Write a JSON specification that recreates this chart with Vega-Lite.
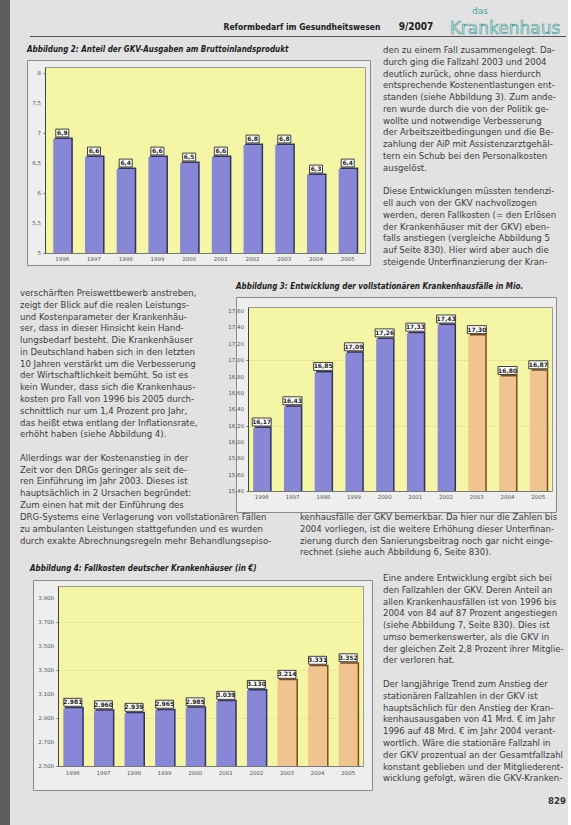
{
"$schema": "https://vega.github.io/schema/vega-lite/v6.json",
"background": "#e2e2e2",
"padding": 0,
"datasets": {"e": [{}]},
"config": {
  "view": {"stroke": null},
  "locale": {"number": {"decimal": ",", "thousands": ".", "grouping": [3], "currency": ["", " €"]}},
  "axis": {"labelFont": "DejaVu Sans", "labelColor": "#555555", "title": null, "labelOverlap": false}
},
"spacing": 0, "bounds": "flush", "align": "none",
"vconcat": [
  {"spacing": 0, "bounds": "flush", "align": "none", "hconcat": [
    {"width": 10, "height": 825, "view": {"fill": "#5e5e5e"}, "data": {"name": "e"}, "mark": {"type": "text", "text": ""}}
  ]},
  {"width": 0.001, "height": 18, "data": {"name": "e"}, "mark": {"type": "text", "text": ""}},
  {"spacing": 0, "bounds": "flush", "align": "none", "hconcat": [
    {"width": 232, "height": 18, "data": {"name": "e"}, "mark": {"type": "text", "text": ""}},
    {"width": 140, "height": 18, "data": {"values": [{"t": "Reformbedarf im Gesundheitswesen"}]}, "mark": {"type": "text", "font": "DejaVu Sans Condensed, sans-serif", "fontWeight": "bold", "fontSize": 8.5, "color": "#202020", "baseline": "middle"}, "encoding": {"text": {"field": "t"}}},
    {"width": 28, "height": 18, "data": {"name": "e"}, "mark": {"type": "text", "text": ""}},
    {"width": 32, "height": 18, "data": {"values": [{"t": "9/2007"}]}, "mark": {"type": "text", "font": "DejaVu Sans Condensed, sans-serif", "fontWeight": "bold", "fontSize": 10, "color": "#202020", "baseline": "middle"}, "encoding": {"text": {"field": "t"}}},
    {"width": 11, "height": 18, "data": {"name": "e"}, "mark": {"type": "text", "text": ""}},
    {"width": 124, "height": 18, "title": {"text": "das", "anchor": "start", "dx": 29, "offset": 2, "fontSize": 9, "font": "DejaVu Sans", "fontWeight": "normal", "color": "#4a9f9b", "frame": "group"}, "data": {"values": [{"t": "Krankenhaus"}]}, "mark": {"type": "text", "font": "DejaVu Sans", "fontSize": 17, "fill": "#d3ebe8", "stroke": "#3f9893", "strokeWidth": 0.6, "baseline": "middle", "dy": 2}, "encoding": {"text": {"field": "t"}}}
  ]},
  {"width": 0.001, "height": 18, "data": {"name": "e"}, "mark": {"type": "text", "text": ""}},
  {"spacing": 0, "bounds": "flush", "align": "none", "hconcat": [
    {"width": 30, "height": 1, "data": {"name": "e"}, "mark": {"type": "text", "text": ""}},
    {"width": 536, "height": 1, "view": {"fill": "#555555"}, "data": {"name": "e"}, "mark": {"type": "text", "text": ""}}
  ]},
  {"width": 0.001, "height": 14, "data": {"name": "e"}, "mark": {"type": "text", "text": ""}},
  {"spacing": 0, "bounds": "flush", "align": "none", "hconcat": [
    {"width": 383, "height": 1, "data": {"name": "e"}, "mark": {"type": "text", "text": ""}},
    {"width": 185, "height": 212,
     "data": {"values": [
       {"z": 0, "t": "den zu einem Fall zusammengelegt. Da-"},
       {"z": 1, "t": "durch ging die Fallzahl 2003 und 2004"},
       {"z": 2, "t": "deutlich zurück, ohne dass hierdurch"},
       {"z": 3, "t": "entsprechende Kostenentlastungen ent-"},
       {"z": 4, "t": "standen (siehe Abbildung 3). Zum ande-"},
       {"z": 5, "t": "ren wurde durch die von der Politik ge-"},
       {"z": 6, "t": "wollte und notwendige Verbesserung"},
       {"z": 7, "t": "der Arbeitszeitbedingungen und die Be-"},
       {"z": 8, "t": "zahlung der AiP mit Assistenzarztgehäl-"},
       {"z": 9, "t": "tern ein Schub bei den Personalkosten"},
       {"z": 10, "t": "ausgelöst."},
       {"z": 12, "t": "Diese Entwicklungen müssten tendenzi-"},
       {"z": 13, "t": "ell auch von der GKV nachvollzogen"},
       {"z": 14, "t": "werden, deren Fallkosten (= den Erlösen"},
       {"z": 15, "t": "der Krankenhäuser mit der GKV) eben-"},
       {"z": 16, "t": "falls anstiegen (vergleiche Abbildung 5"},
       {"z": 17, "t": "auf Seite 830). Hier wird aber auch die"},
       {"z": 18, "t": "steigende Unterfinanzierung der Kran-"}
     ]},
     "mark": {"type": "text", "align": "left", "baseline": "middle", "font": "DejaVu Sans Condensed, sans-serif", "fontSize": 9.5, "color": "#3c3c3c"},
     "encoding": {"x": {"value": 0}, "y": {"field": "z", "type": "quantitative", "scale": {"domain": [0, 18], "reverse": true, "nice": false, "zero": false}, "axis": null}, "text": {"field": "t"}}
    }
  ]},
  {"width": 0.001, "height": 10, "data": {"name": "e"}, "mark": {"type": "text", "text": ""}},
  {"spacing": 0, "bounds": "flush", "align": "none", "hconcat": [
    {"width": 27, "height": 1, "data": {"name": "e"}, "mark": {"type": "text", "text": ""}},
    {"width": 343, "height": 205, "view": {"fill": "#eeeeee", "stroke": "#8a8a8a", "strokeWidth": 1}, "data": {"name": "e"}, "mark": {"type": "text", "text": ""}}
  ]},
  {"width": 0.001, "height": 7, "data": {"name": "e"}, "mark": {"type": "text", "text": ""}},
  {"spacing": 0, "bounds": "flush", "align": "none", "hconcat": [
    {"width": 45, "height": 1, "data": {"name": "e"}, "mark": {"type": "text", "text": ""}},
    {"width": 320, "height": 186,
     "view": {"fill": "#f5f5a6", "stroke": "#9a9a9a"},
     "title": {"text": "Abbildung 2: Anteil der GKV-Ausgaben am Bruttoinlandsprodukt", "anchor": "start", "frame": "group", "dx": -18, "offset": 13, "font": "DejaVu Sans Condensed, sans-serif", "fontSize": 8, "fontStyle": "italic", "fontWeight": "bold", "color": "#1e1e1e"},
     "data": {"values": [
       {"jahr": "1996", "v": 6.9}, {"jahr": "1997", "v": 6.6}, {"jahr": "1998", "v": 6.4}, {"jahr": "1999", "v": 6.6}, {"jahr": "2000", "v": 6.5},
       {"jahr": "2001", "v": 6.6}, {"jahr": "2002", "v": 6.8}, {"jahr": "2003", "v": 6.8}, {"jahr": "2004", "v": 6.3}, {"jahr": "2005", "v": 6.4}
     ]},
     "encoding": {
       "x": {"field": "jahr", "type": "ordinal", "scale": {"paddingInner": 0.43, "paddingOuter": 0.26}, "axis": {"labelAngle": 0, "labelFontSize": 5.5, "ticks": false, "domainColor": "#777777", "labelPadding": 3}}
     },
     "layer": [
       {"mark": {"type": "bar", "color": "#33335e", "xOffset": 1.5, "yOffset": -1.5},
        "encoding": {"y": {"field": "v", "type": "quantitative", "scale": {"domain": [5, 8.1], "nice": false, "zero": false}, "axis": {"values": [5, 5.5, 6, 6.5, 7, 7.5, 8], "labels": false, "tickSize": 2, "tickColor": "#777777", "domainColor": "#444444", "grid": false}}, "y2": {"datum": 5}}},
       {"mark": {"type": "bar", "color": "#8886d6"}, "encoding": {"y": {"field": "v", "type": "quantitative"}, "y2": {"datum": 5}}},
       {"mark": {"type": "point", "shape": "M-1,-0.6H1V0.6H-1Z", "size": 169, "filled": true, "fill": "#ffffff", "stroke": "#111111", "strokeWidth": 0.8, "opacity": 1, "yOffset": -6}, "encoding": {"y": {"field": "v", "type": "quantitative"}}},
       {"mark": {"type": "text", "fontSize": 6, "fontWeight": "bold", "color": "#222222", "yOffset": -6, "baseline": "middle", "font": "DejaVu Sans"}, "encoding": {"y": {"field": "v", "type": "quantitative"}, "text": {"field": "v", "type": "quantitative", "format": ".1f"}}},
       {"data": {"values": [{"t": 5}, {"t": 5.5}, {"t": 6}, {"t": 6.5}, {"t": 7}, {"t": 7.5}, {"t": 8}]},
        "mark": {"type": "text", "align": "right", "baseline": "middle", "fontSize": 5.5, "color": "#555555", "font": "DejaVu Sans", "dx": -4},
        "encoding": {"x": {"value": 0}, "y": {"field": "t", "type": "quantitative"}, "text": {"field": "t", "type": "quantitative", "format": ".1~f"}}}
     ]
    }
  ]},
  {"width": 0.001, "height": 226, "data": {"name": "e"}, "mark": {"type": "text", "text": ""}},
  {"spacing": 0, "bounds": "flush", "align": "none", "hconcat": [
    {"width": 20, "height": 1, "data": {"name": "e"}, "mark": {"type": "text", "text": ""}},
    {"width": 205, "height": 212,
     "data": {"values": [
       {"z": 0, "t": "verschärften Preiswettbewerb anstreben,"},
       {"z": 1, "t": "zeigt der Blick auf die realen Leistungs-"},
       {"z": 2, "t": "und Kostenparameter der Krankenhäu-"},
       {"z": 3, "t": "ser, dass in dieser Hinsicht kein Hand-"},
       {"z": 4, "t": "lungsbedarf besteht. Die Krankenhäuser"},
       {"z": 5, "t": "in Deutschland haben sich in den letzten"},
       {"z": 6, "t": "10 Jahren verstärkt um die Verbesserung"},
       {"z": 7, "t": "der Wirtschaftlichkeit bemüht. So ist es"},
       {"z": 8, "t": "kein Wunder, dass sich die Krankenhaus-"},
       {"z": 9, "t": "kosten pro Fall von 1996 bis 2005 durch-"},
       {"z": 10, "t": "schnittlich nur um 1,4 Prozent pro Jahr,"},
       {"z": 11, "t": "das heißt etwa entlang der Inflationsrate,"},
       {"z": 12, "t": "erhöht haben (siehe Abbildung 4)."},
       {"z": 14, "t": "Allerdings war der Kostenanstieg in der"},
       {"z": 15, "t": "Zeit vor den DRGs geringer als seit de-"},
       {"z": 16, "t": "ren Einführung im Jahr 2003. Dieses ist"},
       {"z": 17, "t": "hauptsächlich in 2 Ursachen begründet:"},
       {"z": 18, "t": "Zum einen hat mit der Einführung des"}
     ]},
     "mark": {"type": "text", "align": "left", "baseline": "middle", "font": "DejaVu Sans Condensed, sans-serif", "fontSize": 9.5, "color": "#3c3c3c"},
     "encoding": {"x": {"value": 0}, "y": {"field": "z", "type": "quantitative", "scale": {"domain": [0, 18], "reverse": true, "nice": false, "zero": false}, "axis": null}, "text": {"field": "t"}}
    }
  ]},
  {"width": 0.001, "height": 4, "data": {"name": "e"}, "mark": {"type": "text", "text": ""}},
  {"spacing": 0, "bounds": "flush", "align": "none", "hconcat": [
    {"width": 236, "height": 1, "data": {"name": "e"}, "mark": {"type": "text", "text": ""}},
    {"width": 320, "height": 215, "view": {"fill": "#eeeeee", "stroke": "#8a8a8a", "strokeWidth": 1}, "data": {"name": "e"}, "mark": {"type": "text", "text": ""}}
  ]},
  {"width": 0.001, "height": 10, "data": {"name": "e"}, "mark": {"type": "text", "text": ""}},
  {"spacing": 0, "bounds": "flush", "align": "none", "hconcat": [
    {"width": 248, "height": 1, "data": {"name": "e"}, "mark": {"type": "text", "text": ""}},
    {"width": 304, "height": 184,
     "view": {"fill": "#f5f5a6", "stroke": "#9a9a9a"},
     "title": {"text": "Abbildung 3: Entwicklung der vollstationären Krankenhausfälle in Mio.", "anchor": "start", "frame": "group", "dx": -12, "offset": 16, "font": "DejaVu Sans Condensed, sans-serif", "fontSize": 8, "fontStyle": "italic", "fontWeight": "bold", "color": "#1e1e1e"},
     "data": {"values": [
       {"jahr": "1996", "v": 16.17, "p": "a"}, {"jahr": "1997", "v": 16.43, "p": "a"}, {"jahr": "1998", "v": 16.85, "p": "a"}, {"jahr": "1999", "v": 17.09, "p": "a"}, {"jahr": "2000", "v": 17.26, "p": "a"},
       {"jahr": "2001", "v": 17.33, "p": "a"}, {"jahr": "2002", "v": 17.43, "p": "a"}, {"jahr": "2003", "v": 17.30, "p": "b"}, {"jahr": "2004", "v": 16.80, "p": "b"}, {"jahr": "2005", "v": 16.87, "p": "b"}
     ]},
     "encoding": {
       "x": {"field": "jahr", "type": "ordinal", "scale": {"paddingInner": 0.45, "paddingOuter": 0.17}, "axis": {"labelAngle": 0, "labelFontSize": 5.5, "ticks": false, "domainColor": "#777777", "labelPadding": 3}}
     },
     "resolve": {"scale": {"color": "independent"}},
     "layer": [
       {"mark": {"type": "bar", "xOffset": 1.5, "yOffset": -1.5},
        "encoding": {"y": {"field": "v", "type": "quantitative", "scale": {"domain": [15.4, 17.65], "nice": false, "zero": false}, "axis": {"values": [15.4, 15.6, 15.8, 16.0, 16.2, 16.4, 16.6, 16.8, 17.0, 17.2, 17.4, 17.6], "labels": false, "tickSize": 2, "tickColor": "#777777", "domainColor": "#444444", "grid": true, "gridColor": "#dede8c", "gridWidth": 0.6}}, "y2": {"datum": 15.4},
          "color": {"field": "p", "type": "nominal", "scale": {"domain": ["a", "b"], "range": ["#33335e", "#7d4a22"]}, "legend": null}}},
       {"mark": {"type": "bar"}, "encoding": {"y": {"field": "v", "type": "quantitative"}, "y2": {"datum": 15.4}, "color": {"field": "p", "type": "nominal", "scale": {"domain": ["a", "b"], "range": ["#8886d6", "#efc48e"]}, "legend": null}}},
       {"mark": {"type": "point", "shape": "M-1,-0.42H1V0.42H-1Z", "size": 361, "filled": true, "fill": "#ffffff", "stroke": "#111111", "strokeWidth": 0.8, "opacity": 1, "yOffset": -6}, "encoding": {"y": {"field": "v", "type": "quantitative"}}},
       {"mark": {"type": "text", "fontSize": 6, "fontWeight": "bold", "color": "#222222", "yOffset": -6, "baseline": "middle", "font": "DejaVu Sans"}, "encoding": {"y": {"field": "v", "type": "quantitative"}, "text": {"field": "v", "type": "quantitative", "format": ".2f"}}},
       {"data": {"values": [{"t": 15.4}, {"t": 15.6}, {"t": 15.8}, {"t": 16.0}, {"t": 16.2}, {"t": 16.4}, {"t": 16.6}, {"t": 16.8}, {"t": 17.0}, {"t": 17.2}, {"t": 17.4}, {"t": 17.6}]},
        "mark": {"type": "text", "align": "right", "baseline": "middle", "fontSize": 5.5, "color": "#555555", "font": "DejaVu Sans", "dx": -4},
        "encoding": {"x": {"value": 0}, "y": {"field": "t", "type": "quantitative"}, "text": {"field": "t", "type": "quantitative", "format": ".2f"}}}
     ]
    }
  ]},
  {"width": 0.001, "height": 210, "data": {"name": "e"}, "mark": {"type": "text", "text": ""}},
  {"spacing": 0, "bounds": "flush", "align": "none", "hconcat": [
    {"width": 20, "height": 1, "data": {"name": "e"}, "mark": {"type": "text", "text": ""}},
    {"width": 270, "height": 36,
     "data": {"values": [
       {"z": 0, "t": "DRG-Systems eine Verlagerung von vollstationären Fällen"},
       {"z": 1, "t": "zu ambulanten Leistungen stattgefunden und es wurden"},
       {"z": 2, "t": "durch exakte Abrechnungsregeln mehr Behandlungsepiso-"}
     ]},
     "mark": {"type": "text", "align": "left", "baseline": "middle", "font": "DejaVu Sans Condensed, sans-serif", "fontSize": 9.5, "color": "#3c3c3c"},
     "encoding": {"x": {"value": 0}, "y": {"field": "z", "type": "quantitative", "scale": {"domain": [0, 3.056], "reverse": true, "nice": false, "zero": false}, "axis": null}, "text": {"field": "t"}}
    },
    {"width": 10, "height": 1, "data": {"name": "e"}, "mark": {"type": "text", "text": ""}},
    {"width": 265, "height": 36,
     "data": {"values": [
       {"z": 0, "t": "kenhausfälle der GKV bemerkbar. Da hier nur die Zahlen bis"},
       {"z": 1, "t": "2004 vorliegen, ist die weitere Erhöhung dieser Unterfinan-"},
       {"z": 2, "t": "zierung durch den Sanierungsbeitrag noch gar nicht einge-"},
       {"z": 3, "t": "rechnet (siehe auch Abbildung 6, Seite 830)."}
     ]},
     "mark": {"type": "text", "align": "left", "baseline": "middle", "font": "DejaVu Sans Condensed, sans-serif", "fontSize": 9.5, "color": "#3c3c3c"},
     "encoding": {"x": {"value": 0}, "y": {"field": "z", "type": "quantitative", "scale": {"domain": [0, 3.056], "reverse": true, "nice": false, "zero": false}, "axis": null}, "text": {"field": "t"}}
    }
  ]},
  {"width": 0.001, "height": 61, "data": {"name": "e"}, "mark": {"type": "text", "text": ""}},
  {"spacing": 0, "bounds": "flush", "align": "none", "hconcat": [
    {"width": 383, "height": 1, "data": {"name": "e"}, "mark": {"type": "text", "text": ""}},
    {"width": 185, "height": 200.3,
     "data": {"values": [
       {"z": 0, "t": "Eine andere Entwicklung ergibt sich bei"},
       {"z": 1, "t": "den Fallzahlen der GKV. Deren Anteil an"},
       {"z": 2, "t": "allen Krankenhausfällen ist von 1996 bis"},
       {"z": 3, "t": "2004 von 84 auf 87 Prozent angestiegen"},
       {"z": 4, "t": "(siehe Abbildung 7, Seite 830). Dies ist"},
       {"z": 5, "t": "umso bemerkenswerter, als die GKV in"},
       {"z": 6, "t": "der gleichen Zeit 2,8 Prozent ihrer Mitglie-"},
       {"z": 7, "t": "der verloren hat."},
       {"z": 9, "t": "Der langjährige Trend zum Anstieg der"},
       {"z": 10, "t": "stationären Fallzahlen in der GKV ist"},
       {"z": 11, "t": "hauptsächlich für den Anstieg der Kran-"},
       {"z": 12, "t": "kenhausausgaben von 41 Mrd. € im Jahr"},
       {"z": 13, "t": "1996 auf 48 Mrd. € im Jahr 2004 verant-"},
       {"z": 14, "t": "wortlich. Wäre die stationäre Fallzahl in"},
       {"z": 15, "t": "der GKV prozentual an der Gesamtfallzahl"},
       {"z": 16, "t": "konstant geblieben und der Mitgliederent-"},
       {"z": 17, "t": "wicklung gefolgt, wären die GKV-Kranken-"}
     ]},
     "mark": {"type": "text", "align": "left", "baseline": "middle", "font": "DejaVu Sans Condensed, sans-serif", "fontSize": 9.5, "color": "#3c3c3c"},
     "encoding": {"x": {"value": 0}, "y": {"field": "z", "type": "quantitative", "scale": {"domain": [0, 17], "reverse": true, "nice": false, "zero": false}, "axis": null}, "text": {"field": "t"}}
    }
  ]},
  {"width": 0.001, "height": 2, "data": {"name": "e"}, "mark": {"type": "text", "text": ""}},
  {"spacing": 0, "bounds": "flush", "align": "none", "hconcat": [
    {"width": 33, "height": 1, "data": {"name": "e"}, "mark": {"type": "text", "text": ""}},
    {"width": 339, "height": 210, "view": {"fill": "#eeeeee", "stroke": "#8a8a8a", "strokeWidth": 1}, "data": {"name": "e"}, "mark": {"type": "text", "text": ""}}
  ]},
  {"width": 0.001, "height": 6, "data": {"name": "e"}, "mark": {"type": "text", "text": ""}},
  {"spacing": 0, "bounds": "flush", "align": "none", "hconcat": [
    {"width": 58, "height": 1, "data": {"name": "e"}, "mark": {"type": "text", "text": ""}},
    {"width": 305, "height": 180,
     "view": {"fill": "#f5f5a6", "stroke": "#9a9a9a"},
     "title": {"text": "Abbildung 4: Fallkosten deutscher Krankenhäuser (in €)", "anchor": "start", "frame": "group", "dx": -28, "offset": 13, "font": "DejaVu Sans Condensed, sans-serif", "fontSize": 8, "fontStyle": "italic", "fontWeight": "bold", "color": "#1e1e1e"},
     "data": {"values": [
       {"jahr": "1996", "v": 2981, "p": "a"}, {"jahr": "1997", "v": 2960, "p": "a"}, {"jahr": "1998", "v": 2939, "p": "a"}, {"jahr": "1999", "v": 2965, "p": "a"}, {"jahr": "2000", "v": 2985, "p": "a"},
       {"jahr": "2001", "v": 3039, "p": "a"}, {"jahr": "2002", "v": 3130, "p": "a"}, {"jahr": "2003", "v": 3214, "p": "b"}, {"jahr": "2004", "v": 3331, "p": "b"}, {"jahr": "2005", "v": 3352, "p": "b"}
     ]},
     "encoding": {
       "x": {"field": "jahr", "type": "ordinal", "scale": {"paddingInner": 0.38, "paddingOuter": 0.175}, "axis": {"labelAngle": 0, "labelFontSize": 5.5, "ticks": false, "domainColor": "#777777", "labelPadding": 4}}
     },
     "resolve": {"scale": {"color": "independent"}},
     "layer": [
       {"mark": {"type": "bar", "xOffset": 1.5, "yOffset": -1.5},
        "encoding": {"y": {"field": "v", "type": "quantitative", "scale": {"domain": [2500, 4000], "nice": false, "zero": false}, "axis": {"values": [2500, 2700, 2900, 3100, 3300, 3500, 3700, 3900], "labels": false, "tickSize": 2, "tickColor": "#777777", "domainColor": "#444444", "grid": true, "gridColor": "#dede8c", "gridWidth": 0.6}}, "y2": {"datum": 2500},
          "color": {"field": "p", "type": "nominal", "scale": {"domain": ["a", "b"], "range": ["#33335e", "#7d4a22"]}, "legend": null}}},
       {"mark": {"type": "bar"}, "encoding": {"y": {"field": "v", "type": "quantitative"}, "y2": {"datum": 2500}, "color": {"field": "p", "type": "nominal", "scale": {"domain": ["a", "b"], "range": ["#8886d6", "#efc48e"]}, "legend": null}}},
       {"mark": {"type": "point", "shape": "M-1,-0.44H1V0.44H-1Z", "size": 324, "filled": true, "fill": "#ffffff", "stroke": "#111111", "strokeWidth": 0.8, "opacity": 1, "yOffset": -6}, "encoding": {"y": {"field": "v", "type": "quantitative"}}},
       {"mark": {"type": "text", "fontSize": 6, "fontWeight": "bold", "color": "#222222", "yOffset": -6, "baseline": "middle", "font": "DejaVu Sans"}, "encoding": {"y": {"field": "v", "type": "quantitative"}, "text": {"field": "v", "type": "quantitative", "format": ",d"}}},
       {"data": {"values": [{"t": 2500}, {"t": 2700}, {"t": 2900}, {"t": 3100}, {"t": 3300}, {"t": 3500}, {"t": 3700}, {"t": 3900}]},
        "mark": {"type": "text", "align": "right", "baseline": "middle", "fontSize": 5.5, "color": "#555555", "font": "DejaVu Sans", "dx": -4},
        "encoding": {"x": {"value": 0}, "y": {"field": "t", "type": "quantitative"}, "text": {"field": "t", "type": "quantitative", "format": ",d"}}}
     ]
    }
  ]},
  {"width": 0.001, "height": 209, "data": {"name": "e"}, "mark": {"type": "text", "text": ""}},
  {"spacing": 0, "bounds": "flush", "align": "none", "hconcat": [
    {"width": 548, "height": 1, "data": {"name": "e"}, "mark": {"type": "text", "text": ""}},
    {"width": 18, "height": 12, "data": {"values": [{"t": "829"}]}, "mark": {"type": "text", "font": "DejaVu Sans Condensed, sans-serif", "fontWeight": "bold", "fontSize": 9.5, "color": "#333333", "baseline": "middle"}, "encoding": {"text": {"field": "t"}}}
  ]},
  {"width": 0.001, "height": 30, "data": {"name": "e"}, "mark": {"type": "text", "text": ""}}
]
}
